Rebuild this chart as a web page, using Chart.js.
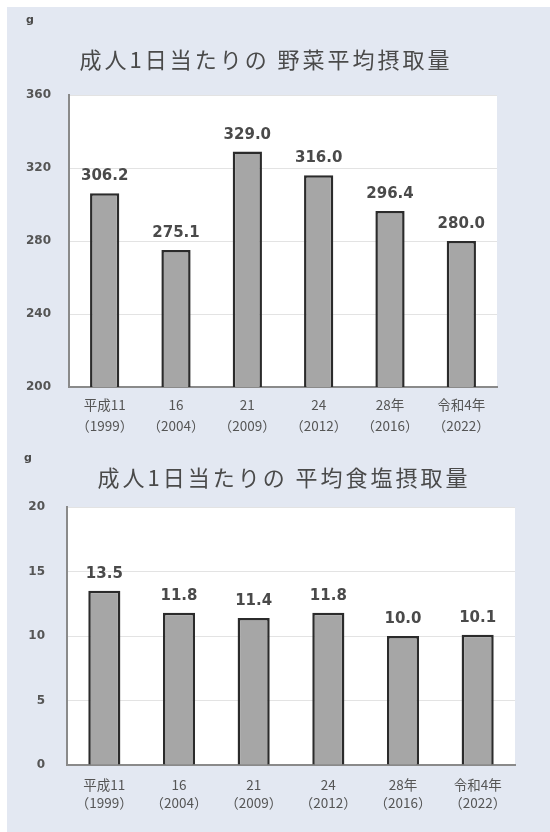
<!DOCTYPE html>
<html lang="ja">
<head>
<meta charset="utf-8">
<script src="https://cdn.jsdelivr.net/npm/chart.js@4.4.0/dist/chart.umd.min.js"></script>
<style>
    html, body { margin: 0; padding: 0; background: #ffffff; }
    body { width: 550px; height: 832px; position: relative; overflow: hidden; }
    #panel { position: absolute; left: 7px; top: 7px; width: 543px; height: 825px; background: #e3e8f2; }
    canvas { position: absolute; left: 0; }
    #vegChart { top: 0; }
    #saltChart { top: 448px; }
</style>
</head>
<body>
<div id="panel"></div>
<canvas id="vegChart" width="550" height="448"></canvas>
<canvas id="saltChart" width="550" height="384"></canvas>
<script>
// Survey years (Japanese era + western year)
const years = [
    ['平成11', '（1999）'],
    ['16', '（2004）'],
    ['21', '（2009）'],
    ['24', '（2012）'],
    ['28年', '（2016）'],
    ['令和4年', '（2022）']
];

// Average daily intake per adult, grams
const vegetableGrams = [306.2, 275.1, 329.0, 316.0, 296.4, 280.0];
const saltGrams = [13.5, 11.8, 11.4, 11.8, 10.0, 10.1];

const vegetableTicks = [200, 240, 280, 320, 360];
const saltTicks = [0, 5, 10, 15, 20];

const vegetableTitle = '成人1日当たりの 野菜平均摂取量';
const saltTitle = '成人1日当たりの 平均食塩摂取量';
const unitLabel = 'g';

const jpFont = '"Noto Sans CJK JP", "Noto Sans", sans-serif';
const numFont = '"DejaVu Sans", sans-serif';
const textColor = '#4a4a4a';

// white plot background behind the grid
const plotBackground = {
    id: 'plotBackground',
    beforeDraw(chart) {
        const { ctx, chartArea: a } = chart;
        ctx.save();
        ctx.fillStyle = '#ffffff';
        ctx.fillRect(a.left, a.top, a.right - a.left, a.bottom - a.top);
        ctx.restore();
    }
};

// title and unit text
const captions = {
    id: 'captions',
    afterDraw(chart, args, opts) {
        const ctx = chart.ctx;
        ctx.save();
        ctx.fillStyle = textColor;
        ctx.textAlign = 'center';
        ctx.textBaseline = 'middle';
        ctx.font = '22px ' + jpFont;
        if ('letterSpacing' in ctx) ctx.letterSpacing = '3px';
        ctx.fillText(opts.title, opts.titleX, opts.titleY);
        if ('letterSpacing' in ctx) ctx.letterSpacing = '0px';
        ctx.font = 'bold 11px ' + numFont;
        ctx.fillText(unitLabel, opts.unitX, opts.unitY);
        ctx.restore();
    }
};

// value printed above each bar
const valueLabels = {
    id: 'valueLabels',
    afterDatasetsDraw(chart) {
        const ctx = chart.ctx;
        const meta = chart.getDatasetMeta(0);
        const values = chart.data.datasets[0].data;
        ctx.save();
        ctx.fillStyle = textColor;
        ctx.font = 'bold 15px ' + numFont;
        ctx.textAlign = 'center';
        ctx.textBaseline = 'alphabetic';
        meta.data.forEach((bar, i) => {
            ctx.fillText(values[i].toFixed(1), bar.x, bar.y - 13);
        });
        ctx.restore();
    }
};

function makeChart(id, values, ticks, cfg) {
    const ctx = document.getElementById(id).getContext('2d');
    return new Chart(ctx, {
        type: 'bar',
        data: {
            labels: years,
            datasets: [{
                data: values,
                backgroundColor: '#a6a6a6',
                borderColor: '#2b2b2b',
                borderWidth: 2.5,
                barPercentage: cfg.barPct,
                categoryPercentage: 1
            }]
        },
        options: {
            responsive: false,
            animation: false,
            layout: {
                padding: { left: 0, right: cfg.padRight, top: cfg.padTop, bottom: 0 }
            },
            plugins: {
                legend: { display: false },
                tooltip: { enabled: false },
                captions: cfg.captions
            },
            scales: {
                x: {
                    grid: { display: false, drawTicks: false },
                    border: { display: true, color: '#8a8a8a', width: 2 },
                    ticks: {
                        color: '#555555',
                        padding: cfg.xPad,
                        maxRotation: 0,
                        autoSkip: false,
                        font: { family: jpFont, size: 13.5, lineHeight: cfg.xLine }
                    },
                    afterFit: scale => { scale.height = cfg.xHeight; }
                },
                y: {
                    min: ticks[0],
                    max: ticks[ticks.length - 1],
                    afterBuildTicks: scale => {
                        scale.ticks = ticks.map(v => ({ value: v }));
                    },
                    grid: { color: '#e3e3e3', lineWidth: 1, drawTicks: false },
                    border: { display: true, color: '#8a8a8a', width: 2 },
                    ticks: {
                        color: '#555555',
                        padding: cfg.yPad,
                        font: { family: numFont, size: 12, weight: 'bold' }
                    },
                    afterFit: scale => { scale.width = cfg.yWidth; }
                }
            }
        },
        plugins: [plotBackground, captions, valueLabels]
    });
}

makeChart('vegChart', vegetableGrams, vegetableTicks, {
    barPct: 0.41,
    padRight: 53,
    padTop: 95,
    xHeight: 61,
    xPad: 8,
    xLine: 1.52,
    yWidth: 69,
    yPad: 18,
    captions: { title: vegetableTitle, titleX: 266, titleY: 60, unitX: 30, unitY: 20 }
});

makeChart('saltChart', saltGrams, saltTicks, {
    barPct: 0.43,
    padRight: 35,
    padTop: 59,
    xHeight: 67,
    xPad: 11,
    xLine: 1.35,
    yWidth: 67,
    yPad: 22,
    captions: { title: saltTitle, titleX: 284, titleY: 30, unitX: 28, unitY: 10 }
});
</script>
</body>
</html>
